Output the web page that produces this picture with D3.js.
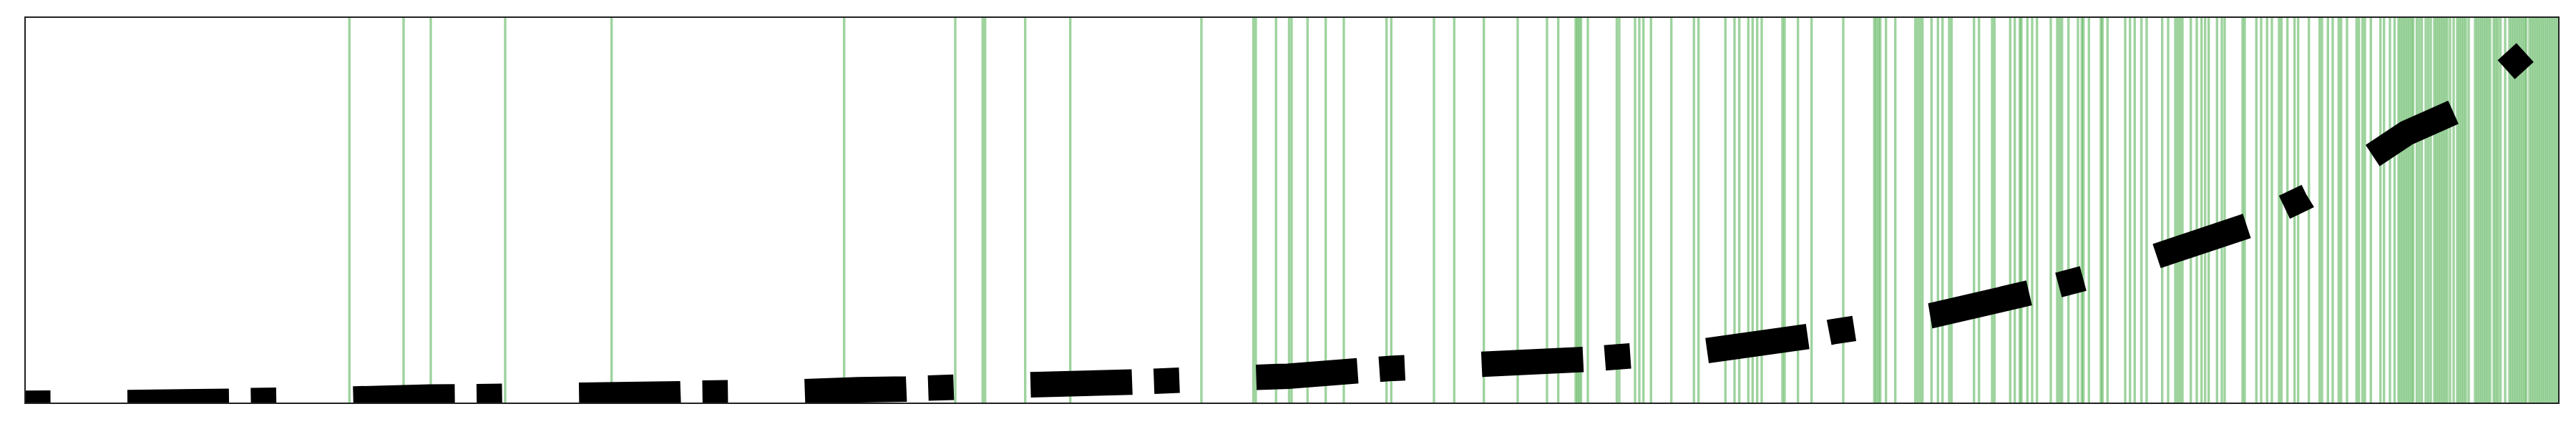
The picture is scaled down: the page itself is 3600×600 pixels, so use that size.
<!DOCTYPE html>
<html>
<head>
<meta charset="utf-8">
<script src="https://cdn.jsdelivr.net/npm/d3@7/dist/d3.min.js"></script>
<style>html,body{margin:0;padding:0;background:#fff;}svg{display:block;}</style>
</head>
<body>
<svg id="chart"></svg>
<script>
// ---- data; null = missing value (line break) ----
const lineX = [35,180,321,350,492,600,666,808,950,981,1123,1200,1266,1297,1439,1581,1613,1755,1800,1895,1947,2071,2213,2262,2385.5,2526.3,2561,2594.6,2698.5,2836.5,2856,2876.8,2912.8,3009,3140,3166,3192.5,3224.3,3307.7,3363.5,3428.6,3465,3502.5,3531.5];
const lineY = [0,0.9,2.8,3.6,5.9,8.6,9.3,11.2,13.2,14.3,16.2,18.9,19.9,21.2,25.8,29.6,30.8,36.3,37.8,45.3,48.9,54.5,61.2,65,73.6,93.3,100,105.2,122.4,154.5,null,165.4,175,204.3,248,null,274.1,289.4,341.1,378,407,null,466.5,493];

const eventX = [488.3,564,602,706,854.7,1179.7,1335,1373.3,1376.7,1432.7,1495.7,1679,1751.7,1755,1783.3,1801.5,1805,1827.3,1852.7,1878,1937.7,1944.3,2004,2032.3,2073.7,2121,2162,2177.7,2202,2204.5,2207,2209.5,2219,2259.5,2263,2285,2291,2296.7,
2307.3,2335.7,2367.3,2373.7,2411.3,2424,2430.7,2443.3,2449.3,2455.7,2462,2491,2494,2512.7,2531.7,2576,2619.3,2622,2625,2627.7,2635.7,2648.7,2676.7,2680,2683.3,2686.7,2699.3,2708.3,2714.7,2724,2727.3,2758.7,2765.7,2784,2787.3,2809.3,2815.7,
2822.7,2825,2833.3,2840,2846.7,2866,2875,2878.3,2881.7,2890.7,2904,2909.3,2911.7,2919.3,2936,2938.3,2945.3,2970,2976.7,2983.3,2992.7,3000,3021.7,3030,3040,3043.3,3046.7,3050,3061.7,3070,3076.7,3081.7,3086.7,3098.3,3105,3109,3134,3137,3153.3,3160,3168.3,3175,3185,3188.3,3196.7,3206.7,3211.7,3226.7,3241.7,3245,3253.3,3260,3268.3,3271.7,3280,3293.3,3296.7,3301.7,3305,3313.3,3326.7,3331.7,
3340,3346.5,3352,3355,3358,3361,3364,3367,3370,3372.5,3377.5,3381,3384.5,3390,3393.5,3397,3402,3405,3408,3411,3414,3417,3420,3424,3429,3434,3437,3440,3443,3446,3450,3459,3462,3465,3468,3471,3474,3477,3480,3485,3488,3491,3494.5,3501,3507,3510,3513,3516,3519,3522,3525,3528,3530.5,3535,3538,3541,3544,3547,3550,3553,3556,3559,3562,3565,3568,3571,3574];

const xDomain = [35, 3576];
const yDomain = [0, 540];

// ---- layout ----
const W = 3600, H = 600;
const M = {left: 35, top: 24, right: 24, bottom: 36};

const svg = d3.select("#chart").attr("width", W).attr("height", H);

const x = d3.scaleLinear().domain(xDomain).range([M.left, W - M.right]);
const y = d3.scaleLinear().domain(yDomain).range([H - M.bottom, M.top]);

svg.append("defs").append("clipPath").attr("id", "plotclip")
  .append("rect")
  .attr("x", M.left).attr("y", M.top)
  .attr("width", W - M.left - M.right).attr("height", H - M.top - M.bottom);

const plot = svg.append("g").attr("clip-path", "url(#plotclip)");

// event markers
plot.append("g").selectAll("line").data(eventX).join("line")
  .attr("x1", d => x(d)).attr("x2", d => x(d))
  .attr("y1", y(yDomain[1])).attr("y2", y(yDomain[0]))
  .attr("stroke", "#2ca02c").attr("stroke-opacity", 0.46).attr("stroke-width", 3.4);

// thick dotted-dash series line (pattern restarts at each data break)
const pts = lineX.map((v, i) => [v, lineY[i]]);
const line = d3.line()
  .defined(d => d[1] !== null)
  .x(d => x(d[0])).y(d => y(d[1]));
plot.append("path")
  .attr("d", line(pts))
  .attr("fill", "none")
  .attr("stroke", "#000")
  .attr("stroke-width", 35.6)
  .attr("stroke-linecap", "butt")
  .attr("stroke-linejoin", "miter")
  .attr("stroke-dasharray", "35.6 107.5 142 30.5")
  .attr("stroke-dashoffset", 0);

// frame
svg.append("rect")
  .attr("x", M.left).attr("y", M.top)
  .attr("width", W - M.left - M.right).attr("height", H - M.top - M.bottom)
  .attr("fill", "none").attr("stroke", "#222").attr("stroke-width", 2);
</script>
</body>
</html>
